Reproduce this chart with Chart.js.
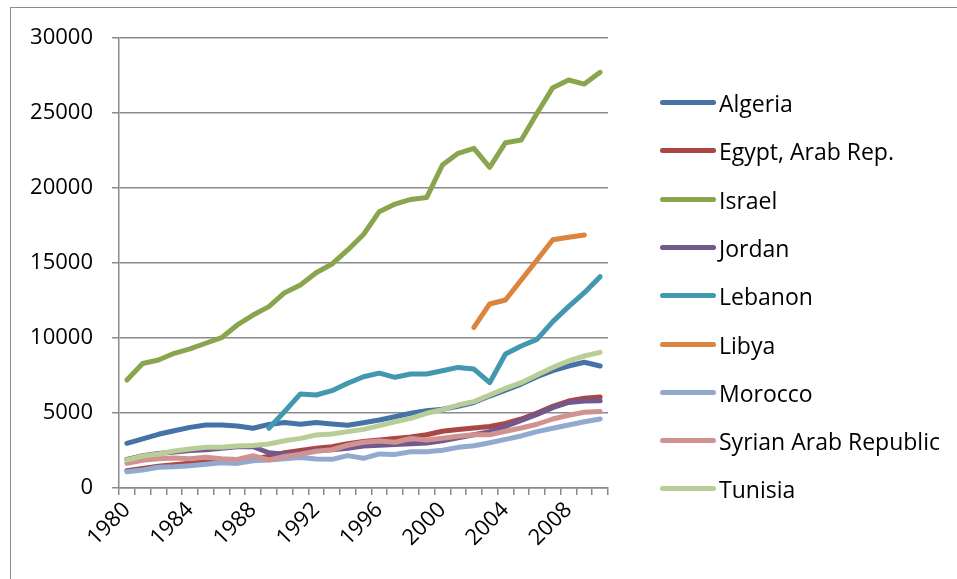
<!DOCTYPE html>
<html>
<head>
<meta charset="utf-8">
<script src="https://cdn.jsdelivr.net/npm/chart.js@4/dist/chart.umd.min.js"></script>
<style>
  html, body { margin: 0; padding: 0; background: #fff; }
  body { width: 957px; height: 579px; position: relative; overflow: hidden; font-family: "Open Sans", sans-serif; }
  .frame { position: absolute; left: 10px; top: 7px; width: 980px; height: 600px; border: 1px solid #8c8c8c; }
  .wrap { position: absolute; left: 0; top: 0; width: 957px; height: 579px; }
  .legend { position: absolute; left: 660px; top: 0; }
  .legend-item { position: absolute; left: 0; height: 30px; white-space: nowrap; font-size: 23px; line-height: 30px; color: #000; }
  .legend-item span.swatch { position: absolute; left: 0; top: 12px; width: 56px; height: 5px; border-radius: 3px; }
  .legend-item span.name { position: absolute; left: 59px; top: 0; }
</style>
</head>
<body>
<div class="frame"></div>
<div class="wrap"><canvas id="chart" width="957" height="579"></canvas></div>
<div class="legend" id="legend"></div>
<script>
const years = ["1980","1981","1982","1983","1984","1985","1986","1987","1988","1989",
  "1990","1991","1992","1993","1994","1995","1996","1997","1998","1999",
  "2000","2001","2002","2003","2004","2005","2006","2007","2008","2009","2010"];

const countries = ["Algeria", "Egypt, Arab Rep.", "Israel", "Jordan", "Lebanon", "Libya", "Morocco", "Syrian Arab Republic", "Tunisia"];
const colors = ["#4572A7", "#AA4643", "#89A54E", "#71588F", "#4198AF", "#DB843D", "#93A9CF", "#D19392", "#B9CD96"];

const algeria = [2980, 3270, 3580, 3820, 4040, 4200, 4200, 4130, 3980, 4240,
  4360, 4250, 4370, 4270, 4180, 4350, 4530, 4750, 4980, 5150,
  5250, 5450, 5700, 6130, 6530, 6930, 7420, 7820, 8130, 8380, 8130];
const egypt = [1150, 1300, 1450, 1550, 1650, 1750, 1800, 1850, 1950, 2100,
  2350, 2500, 2650, 2750, 2950, 3100, 3200, 3300, 3400, 3550,
  3780, 3900, 4000, 4100, 4300, 4600, 5000, 5450, 5800, 5980, 6070];
const israel = [7200, 8300, 8530, 8980, 9270, 9650, 10020, 10870, 11530, 12090,
  13020, 13530, 14350, 14930, 15870, 16900, 18420, 18930, 19240, 19360,
  21530, 22310, 22640, 21380, 23020, 23200, 24980, 26690, 27200, 26930, 27710];
const jordan = [1900, 2150, 2300, 2400, 2500, 2550, 2650, 2750, 2750, 2350,
  2250, 2300, 2500, 2550, 2650, 2800, 2850, 2900, 2950, 3000,
  3150, 3350, 3550, 3750, 4100, 4500, 4900, 5350, 5700, 5800, 5820];
const lebanon = [null, null, null, null, null, null, null, null, null, 3980,
  5100, 6270, 6200, 6490, 6980, 7420, 7660, 7380, 7600, 7600,
  7820, 8040, 7930, 7020, 8930, 9470, 9910, 11090, 12090, 13020, 14090];
const libya = [null, null, null, null, null, null, null, null, null, null,
  null, null, null, null, null, null, null, null, null, null,
  null, null, 10710, 12270, 12530, 13870, 15200, 16550, 16720, 16870, null];
const morocco = [1090, 1200, 1380, 1420, 1490, 1580, 1690, 1640, 1820, 1870,
  1950, 2040, 1930, 1910, 2160, 1980, 2270, 2240, 2420, 2420,
  2520, 2710, 2820, 3020, 3240, 3470, 3760, 3980, 4200, 4420, 4600];
const syria = [1650, 1850, 1950, 2000, 1950, 2050, 1950, 1900, 2150, 1870,
  2100, 2250, 2450, 2550, 2850, 3050, 3130, 3050, 3300, 3200,
  3310, 3450, 3550, 3550, 3780, 4000, 4250, 4600, 4850, 5050, 5100];
const tunisia = [1870, 2130, 2270, 2470, 2600, 2710, 2710, 2800, 2840, 2930,
  3150, 3310, 3530, 3600, 3760, 3910, 4160, 4420, 4640, 4980,
  5220, 5530, 5760, 6200, 6640, 7020, 7530, 8040, 8470, 8800, 9040];

const yTicks = [0, 5000, 10000, 15000, 20000, 25000, 30000];

const series = [algeria, egypt, israel, jordan, lebanon, libya, morocco, syria, tunisia];
const gridColor = "#8a8a8a";

const datasets = series.map(function (values, i) {
  return {
    label: countries[i],
    data: values,
    borderColor: colors[i],
    backgroundColor: colors[i],
    borderWidth: 5,
    pointRadius: 0,
    tension: 0,
    borderCapStyle: "round",
    borderJoinStyle: "round",
    spanGaps: false,
    // last series on top, like the original
    order: series.length - 1 - i
  };
});

new Chart(document.getElementById("chart"), {
  type: "line",
  data: { labels: years, datasets: datasets },
  options: {
    responsive: false,
    animation: false,
    layout: { padding: { left: 0, top: 38, right: 349, bottom: 0 } },
    plugins: {
      legend: { display: false },
      tooltip: { enabled: false }
    },
    scales: {
      x: {
        offset: true,
        grid: { display: true, offset: true, drawOnChartArea: false, drawTicks: true, tickLength: 7, color: gridColor, lineWidth: 1.5 },
        border: { display: true, color: gridColor, width: 1.5 },
        ticks: {
          autoSkip: false,
          maxRotation: 45,
          minRotation: 45,
          padding: 2,
          color: "#000",
          font: { family: "Open Sans", size: 22 },
          callback: function (value, index) {
            const y = years[index];
            return (parseInt(y) - 1980) % 4 === 0 ? y : "";
          }
        },
        afterFit: function (scale) { scale.height = 91; }
      },
      y: {
        min: yTicks[0],
        max: yTicks[yTicks.length - 1],
        afterBuildTicks: function (scale) {
          scale.ticks = yTicks.map(function (v) { return { value: v }; });
        },
        grid: { color: gridColor, lineWidth: 1.5, drawTicks: true, tickLength: 7 },
        border: { display: true, color: gridColor, width: 1.5 },
        ticks: {
          padding: 19,
          color: "#000",
          font: { family: "Open Sans", size: 22 },
          callback: function (v) { return String(v); }
        },
        afterFit: function (scale) { scale.width = 119; }
      }
    }
  }
});

// legend built from the same names/colours
const legend = document.getElementById("legend");
countries.forEach(function (name, i) {
  const item = document.createElement("div");
  item.className = "legend-item";
  item.style.top = (103 + i * 48.3 - 15) + "px";
  const sw = document.createElement("span");
  sw.className = "swatch";
  sw.style.background = colors[i];
  const txt = document.createElement("span");
  txt.className = "name";
  txt.textContent = name;
  item.appendChild(sw);
  item.appendChild(txt);
  legend.appendChild(item);
});
</script>
</body>
</html>
